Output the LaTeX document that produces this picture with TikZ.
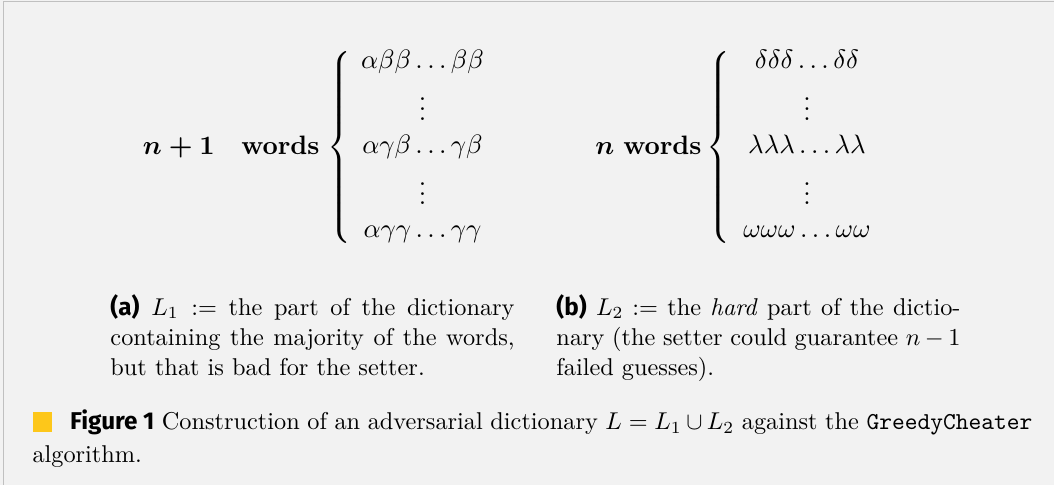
\documentclass[tikz,border=0pt]{standalone}
\usepackage{fontspec}
\setsansfont{Fira Sans}
\usepackage{amsmath}
\usepackage{xcolor}
\definecolor{figBack}     {HTML}{F2F2F2}
\definecolor{frameLine}   {HTML}{C0C0C0}
\definecolor{lipicsYellow}{HTML}{FDC71A}

\tikzset{
    wordrow/.style    = {anchor=base, inner sep=0pt, font=\fontsize{10.95}{13.6}\selectfont},
    countlabel/.style = {anchor=base east, inner sep=0pt, font=\fontsize{10.95}{13.6}\selectfont},
    bracebox/.style   = {anchor=west, inner sep=0pt, font=\fontsize{10.95}{13.6}\selectfont},
    subcap/.style     = {anchor=base west, inner sep=0pt, text width=166.3pt, align=justify,
                         font=\fontsize{10}{12.35}\selectfont},
    figcap/.style     = {anchor=base west, inner sep=0pt, text width=411.5pt, align=justify,
                         font=\fontsize{10}{13.6}\selectfont},
}

\begin{document}
\begin{tikzpicture}[scale=1.029]
    % Grey figure panel with its thin frame on the top and left.
    \useasboundingbox (0,0) rectangle (14.815,-6.817);
    \fill[figBack] (0,0) rectangle (14.815,-6.817);
    \draw[frameLine, line width=0.5pt] (0.049,-6.817) -- (0.049,-0.021) -- (14.815,-0.021);

    % --- L_1 : n+1 words ---
    \node[countlabel] (labA) at (4.498,-2.165) {$\boldsymbol{n+1}\quad\textbf{words}$};
    \node[bracebox] (braceA) at (4.59,-2.073) {$\left\{\vcenter{\hbox{\rule{0pt}{83pt}}}\right.$};
    \node[wordrow] (rowA1) at (5.939,-0.956) {$\alpha\beta\beta\ldots\beta\beta$};
    \node[wordrow] (dotA1) at (5.939,-1.687) {$\vdots$};
    \node[wordrow] (rowA2) at (5.939,-2.151) {$\alpha\gamma\beta\ldots\gamma\beta$};
    \node[wordrow] (dotA2) at (5.939,-2.881) {$\vdots$};
    \node[wordrow] (rowA3) at (5.939,-3.345) {$\alpha\gamma\gamma\ldots\gamma\gamma$};

    % --- L_2 : n words ---
    \node[countlabel] (labB) at (9.867,-2.165) {$\boldsymbol{n}$ \textbf{words}};
    \node[bracebox] (braceB) at (9.93,-2.073) {$\left\{\vcenter{\hbox{\rule{0pt}{83pt}}}\right.$};
    \node[wordrow] (rowB1) at (11.343,-0.956) {$\delta\delta\delta\ldots\delta\delta$};
    \node[wordrow] (dotB1) at (11.343,-1.687) {$\vdots$};
    \node[wordrow] (rowB2) at (11.343,-2.151) {$\lambda\lambda\lambda\ldots\lambda\lambda$};
    \node[wordrow] (dotB2) at (11.343,-2.881) {$\vdots$};
    \node[wordrow] (rowB3) at (11.343,-3.345) {$\omega\omega\omega\ldots\omega\omega$};

    % --- Sub-captions ---
    \node[subcap] (capA) at (1.546,-4.428)
        {\textsf{\textbf{(a)}} $L_1 :=$ the part of the dictionary containing the majority of the words, but that is bad for the setter.};
    \node[subcap] (capB) at (7.815,-4.428)
        {\textsf{\textbf{(b)}} $L_2 :=$ the \emph{hard} part of the dictionary (the setter could guarantee $n-1$ failed guesses).};

    % --- Figure caption ---
    \node[figcap] (figCap) at (0.45,-6.038)
        {\textcolor{lipicsYellow}{\rule[-1pt]{8.2pt}{8.2pt}}\hspace{7.3pt}\textsf{\textbf{Figure 1}} Construction of an adversarial dictionary $L = L_1 \cup L_2$ against the \texttt{GreedyCheater} algorithm.};
\end{tikzpicture}
\end{document}
